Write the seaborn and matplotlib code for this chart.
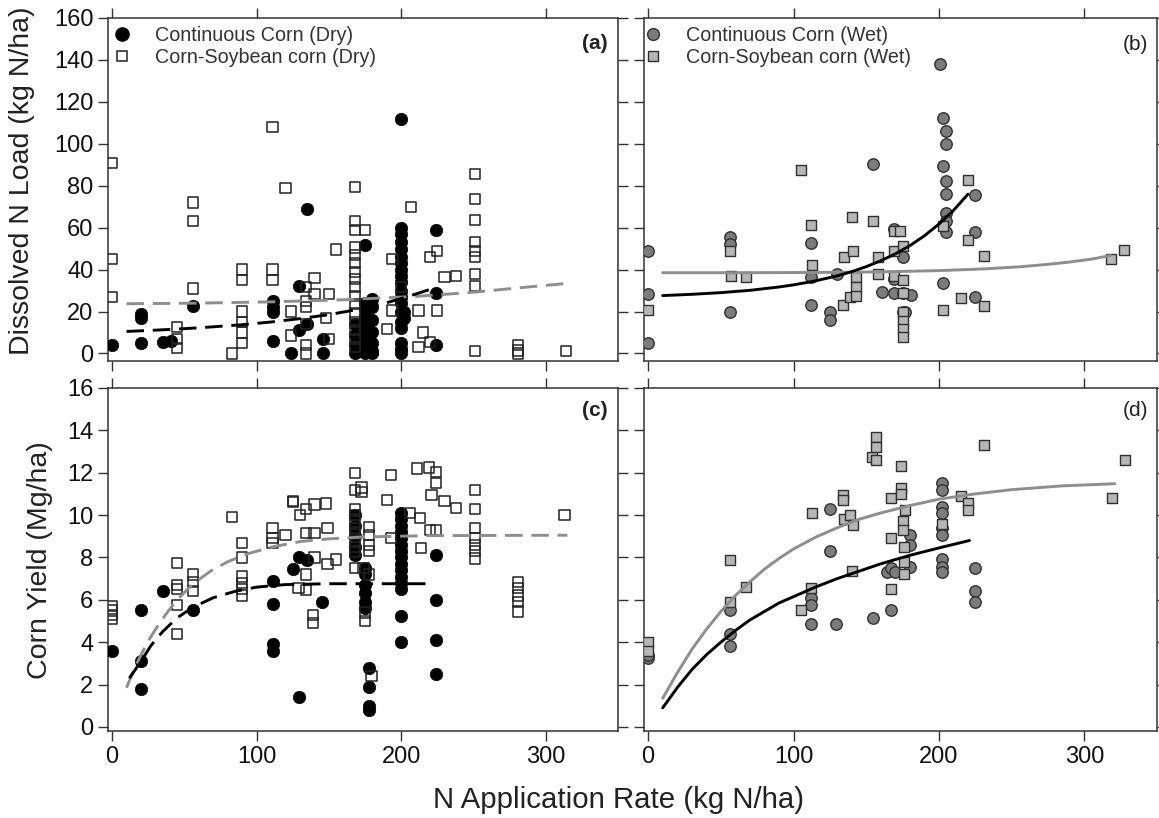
import matplotlib
matplotlib.use("Agg")
import matplotlib.pyplot as plt
import seaborn as sns
from matplotlib.lines import Line2D

# ---------------- data ----------------
# Panel (a): dissolved N load, dry years
a_cc_x = [0, 20, 20, 20, 35, 41, 56, 111, 111, 111, 111, 124, 129, 129, 135, 135, 146, 146,
          168, 168, 168, 168,
          175, 175, 175, 175, 175, 175, 175, 175, 175, 175,
          180, 180, 180, 180, 180, 180, 180,
          200, 200, 200, 200, 200, 200, 200, 200, 200, 200, 200, 200, 200, 200, 200, 200, 200, 200, 200,
          202, 202, 224, 224, 224]
a_cc_y = [4, 19, 17, 5, 5.5, 6, 22.5, 25, 22, 20, 6, 0, 32, 11, 69, 14, 7, 0,
          14, 9, 4, 0,
          51.5, 24, 21, 18, 15, 12, 9, 6, 3, 0,
          26, 22, 16, 10, 5, 1, 0,
          112, 60, 57, 53, 50, 46, 43, 40, 37, 34, 30, 27, 24, 20, 15, 12, 5, 2, 0,
          20, 17, 59, 29, 4]
a_cs_x = [0, 0, 0, 45, 45, 45, 56, 56, 56, 83, 90, 90, 90, 90, 90, 90, 111, 111, 111, 120, 124, 124,
          134, 134, 134, 134, 134, 134, 140, 140, 148, 150, 150, 155,
          168, 168, 168, 168, 168, 168, 168, 168, 168, 168, 168, 168, 168, 168, 168, 168,
          175, 190, 194, 194, 200, 207, 212, 212, 215, 220, 220, 225, 225, 230, 238,
          251, 251, 251, 251, 251, 251, 251, 251, 251, 281, 281, 281, 314]
a_cs_y = [91, 45, 27, 12.5, 7, 2.5, 72, 63, 31, 0, 40, 35, 20, 15, 10, 5, 108, 40, 35, 79, 20, 8.6,
          31.5, 25, 22, 14, 4, 0, 36, 28.5, 17, 28.5, 7, 49.6,
          79.5, 63, 59, 50.5, 47, 43, 39, 35.5, 31.5, 27.5, 23.5, 19, 15, 11, 7, 3,
          59, 11.5, 45, 20.5, 31.6, 69.7, 20.5, 3, 10, 5.4, 46, 49, 20.5, 36.4, 37,
          85.5, 73.5, 63.5, 53, 49, 46, 38, 32, 1, 4, 1.4, 0, 1]
a_fit_cc_x = [10, 30, 50, 70, 90, 110, 130, 150, 170, 190, 205, 222]
a_fit_cc_y = [10.5, 11.1, 11.8, 12.7, 13.7, 15.0, 16.6, 18.5, 21.0, 24.2, 27.2, 31.0]
a_fit_cs_x = [10, 60, 110, 160, 210, 250, 280, 315]
a_fit_cs_y = [23.7, 24.0, 24.6, 25.6, 27.2, 29.2, 31.2, 33.4]

# Panel (b): dissolved N load, wet years
b_cc_x = [0, 0, 0, 56, 56, 56, 112, 112, 112, 125, 125, 130, 155, 161, 169, 169, 169,
          175, 175, 175, 177, 181, 201, 203, 203, 203, 205, 205, 205, 205, 205, 205, 205,
          225, 225, 225]
b_cc_y = [48.7, 28.5, 4.8, 55.7, 52, 19.7, 52.5, 36.3, 22.9, 20, 16, 38, 90.3, 29.2, 59.5, 35.7, 29,
          46, 29, 19.7, 19.7, 28, 138, 112.5, 89.5, 33.5, 106, 100, 82.4, 76, 67, 63, 57.8,
          75.5, 57.8, 26.8]
b_cs_x = [0, 56, 57, 67, 105, 112, 113, 134, 135, 139, 140.5, 141, 143, 143, 143, 155, 158, 158,
          169, 169, 169, 173, 175, 175, 175, 175, 175, 175, 175, 202.5, 202.5,
          215, 220, 220, 231, 231, 318, 327]
b_cs_y = [20.5, 48.7, 37, 36.3, 87.5, 61.3, 42.4, 23.3, 46, 26.8, 65, 49, 36.3, 31.6, 27.6, 63.3, 46, 38,
          58.6, 49, 37, 58.6, 51.4, 35, 29, 19.7, 15.7, 11.7, 7.8, 61, 20.5,
          26.5, 82.7, 54, 46.7, 22.4, 45, 49.4]
b_fit_cc_x = [10, 30, 50, 70, 90, 100, 115, 130, 140, 150, 160, 170, 180, 190, 200, 210, 220]
b_fit_cc_y = [27.6, 28.2, 29.0, 30.1, 31.7, 32.7, 34.6, 37.0, 39.0, 41.4, 44.2, 47.5, 51.4, 56.1, 61.7, 68.2, 76.0]
b_fit_cs_x = [10, 60, 110, 160, 200, 230, 255, 275, 290, 305, 318]
b_fit_cs_y = [38.5, 38.5, 38.6, 38.9, 39.5, 40.3, 41.3, 42.5, 43.6, 45.0, 46.7]

# Panel (c): corn yield, dry years
c_cc_x = [0, 20, 20, 20, 35, 56, 111, 111, 111, 111, 125, 129, 129, 135, 145,
          168, 168, 168, 168, 168, 175, 175, 175, 175, 175, 175, 178, 178, 178, 178,
          200, 200, 200, 200, 200, 200, 200, 200, 200, 200, 200, 200, 200, 200, 200,
          224, 224, 224, 224]
c_cc_y = [3.6, 5.5, 3.1, 1.8, 6.4, 5.5, 6.9, 5.8, 3.9, 3.6, 7.45, 8.0, 1.4, 7.9, 5.9,
          10.0, 9.5, 9.0, 8.5, 8.1, 7.5, 7.2, 6.7, 6.3, 5.9, 5.6, 2.8, 1.9, 1.0, 0.8,
          10.1, 9.8, 9.5, 9.2, 8.9, 8.6, 8.3, 8.0, 7.7, 7.4, 7.1, 6.8, 6.5, 5.25, 4.0,
          8.1, 6.0, 4.1, 2.5]
c_cs_x = [0, 0, 0, 0, 45, 45, 45, 45, 45, 56, 56, 56, 83, 90, 90, 90, 90, 90, 90,
          111, 111, 111, 120, 125, 125, 130, 134, 134, 134, 134, 139, 139, 140, 140, 140, 129,
          148, 149, 149, 155,
          168, 168, 168, 168, 168, 168, 168, 168, 168, 168, 168, 172.5, 172.5,
          178, 178, 178, 178, 178, 174, 175, 175, 179.5,
          190, 193, 193, 206, 211, 213, 214, 219, 220, 221, 224, 224, 224, 230, 238,
          251, 251, 251, 251, 251, 251, 251, 281, 281, 281, 281, 281, 313]
c_cs_y = [5.7, 5.5, 5.3, 5.1, 7.75, 6.7, 6.5, 5.75, 4.4, 7.2, 6.85, 6.4, 9.9, 8.7, 8.0, 7.1, 6.8, 6.5, 6.2,
          9.4, 8.9, 8.7, 9.05, 10.6, 10.65, 10.0, 10.3, 9.15, 7.2, 6.45, 5.3, 4.9, 10.5, 9.15, 8.0, 6.55,
          10.55, 9.4, 7.7, 7.9,
          12.0, 11.2, 10.3, 10.0, 9.7, 9.4, 9.1, 8.8, 8.5, 8.25, 7.5, 11.3, 11.1,
          9.45, 9.05, 8.6, 8.3, 7.2, 7.5, 5.4, 5.0, 2.4,
          10.7, 11.9, 8.9, 10.1, 12.2, 9.85, 8.45, 12.25, 9.3, 10.95, 12.05, 11.5, 9.3, 10.65, 10.35,
          11.2, 10.3, 9.4, 8.9, 8.6, 8.3, 7.95, 6.85, 6.55, 6.2, 5.9, 5.45, 10.0]
c_fit_cc_x = [12, 16, 20, 27, 35, 45, 56, 70, 85, 100, 120, 150, 222]
c_fit_cc_y = [2.3, 2.7, 3.1, 3.85, 4.5, 5.15, 5.65, 6.1, 6.4, 6.6, 6.72, 6.76, 6.76]
c_fit_cs_x = [10, 15, 20, 25, 30, 37, 45, 56, 68, 80, 95, 111, 130, 150, 175, 220, 315]
c_fit_cs_y = [1.85, 2.7, 3.4, 4.05, 4.6, 5.3, 6.0, 6.75, 7.35, 7.8, 8.2, 8.5, 8.75, 8.88, 8.97, 9.03, 9.05]

# Panel (d): corn yield, wet years
d_cc_x = [0, 0, 56, 56, 56, 112, 112, 112, 125, 125, 129, 155, 164, 167, 167, 170,
          180, 180, 180, 202, 202, 202, 202, 202, 202, 202, 202, 202, 225, 225, 225]
d_cc_y = [3.25, 3.4, 5.5, 4.4, 3.8, 6.07, 5.75, 4.85, 10.3, 8.3, 4.85, 5.15, 7.3, 7.5, 5.5, 7.3,
          9.05, 8.6, 7.55, 11.5, 11.2, 10.4, 10.1, 9.4, 9.05, 7.95, 7.55, 7.3, 7.5, 6.4, 5.9]
d_cs_x = [0, 0, 56, 56, 67, 105, 112, 113, 134, 134, 135, 139, 141, 140, 154, 157, 157, 157,
          167, 167, 167, 174, 174, 174, 175, 175, 176, 176, 176, 177, 202, 215, 220, 220, 231, 319, 328]
d_cs_y = [4.0, 3.6, 7.9, 5.9, 6.6, 5.5, 6.55, 10.1, 10.95, 10.7, 9.8, 10.0, 9.55, 7.36, 12.75, 13.7, 13.2, 12.6,
          10.8, 8.9, 6.5, 12.3, 11.3, 11.0, 9.7, 9.3, 8.5, 7.8, 7.2, 10.25, 9.6, 10.9, 10.55, 10.25, 13.3, 10.8, 12.6]
d_fit_cc_x = [10, 20, 30, 40, 50, 60, 70, 80, 90, 100, 115, 130, 145, 160, 180, 200, 221]
d_fit_cc_y = [0.9, 1.85, 2.7, 3.4, 4.0, 4.55, 5.05, 5.45, 5.85, 6.15, 6.6, 7.0, 7.35, 7.7, 8.1, 8.45, 8.8]
d_fit_cs_x = [10, 20, 30, 40, 50, 60, 70, 80, 90, 100, 115, 130, 145, 160, 180, 200, 225, 250, 285, 321]
d_fit_cs_y = [1.35, 2.55, 3.65, 4.6, 5.45, 6.2, 6.85, 7.45, 7.95, 8.4, 8.95, 9.4, 9.8, 10.1, 10.45, 10.75,
              11.0, 11.2, 11.38, 11.48]

x_ticks = [0, 100, 200, 300]
load_ticks = [0, 20, 40, 60, 80, 100, 120, 140, 160]
yield_ticks = [0, 2, 4, 6, 8, 10, 12, 14, 16]
legend_dry = ["Continuous Corn (Dry)", "Corn-Soybean corn (Dry)"]
legend_wet = ["Continuous Corn (Wet)", "Corn-Soybean corn (Wet)"]
panel_labels = ["(a)", "(b)", "(c)", "(d)"]
x_label = "N Application Rate (kg N/ha)"
load_label = "Dissolved N Load (kg N/ha)"
yield_label = "Corn Yield (Mg/ha)"

# ---------------- style ----------------
sns.set_style("ticks")
plt.rcParams["font.family"] = ["Liberation Sans", "DejaVu Sans"]
plt.rcParams["axes.edgecolor"] = "#333333"
plt.rcParams["axes.linewidth"] = 1.1

GRAY_C = "#7c7c7c"
GRAY_S = "#b6b6b6"
GRAY_L = "#8e8e8e"
EDGE = "#303030"
DASH = (0, (6.0, 3.0))

fig = plt.figure(figsize=(11.59, 8.18), dpi=100)
ax_a = fig.add_axes([0.0932, 0.5587, 0.4400, 0.4193])
ax_b = fig.add_axes([0.5557, 0.5587, 0.4426, 0.4193])
ax_c = fig.add_axes([0.0932, 0.1064, 0.4400, 0.4193])
ax_d = fig.add_axes([0.5557, 0.1064, 0.4426, 0.4193])


def dry_points(ax, cc_x, cc_y, cs_x, cs_y):
    sns.scatterplot(x=cc_x, y=cc_y, ax=ax, marker="o", s=80, color="black",
                    edgecolor="black", linewidth=0.5, zorder=3)
    sns.scatterplot(x=cs_x, y=cs_y, ax=ax, marker="s", s=54, facecolors="none",
                    edgecolor="#222222", linewidth=1.1, zorder=3)


def wet_points(ax, cc_x, cc_y, cs_x, cs_y):
    sns.scatterplot(x=cc_x, y=cc_y, ax=ax, marker="o", s=68, color=GRAY_C,
                    edgecolor=EDGE, linewidth=1.0, zorder=3)
    sns.scatterplot(x=cs_x, y=cs_y, ax=ax, marker="s", s=52, color=GRAY_S,
                    edgecolor=EDGE, linewidth=1.0, zorder=3)


def fit_line(ax, x, y, color, ls):
    sns.lineplot(x=x, y=y, ax=ax, color=color, linewidth=2.1, linestyle=ls,
                 sort=False, estimator=None, errorbar=None, zorder=4)


dry_points(ax_a, a_cc_x, a_cc_y, a_cs_x, a_cs_y)
fit_line(ax_a, a_fit_cs_x, a_fit_cs_y, GRAY_L, DASH)
fit_line(ax_a, a_fit_cc_x, a_fit_cc_y, "black", DASH)

wet_points(ax_b, b_cc_x, b_cc_y, b_cs_x, b_cs_y)
fit_line(ax_b, b_fit_cs_x, b_fit_cs_y, GRAY_L, "-")
fit_line(ax_b, b_fit_cc_x, b_fit_cc_y, "black", "-")

dry_points(ax_c, c_cc_x, c_cc_y, c_cs_x, c_cs_y)
fit_line(ax_c, c_fit_cs_x, c_fit_cs_y, GRAY_L, DASH)
fit_line(ax_c, c_fit_cc_x, c_fit_cc_y, "black", DASH)

wet_points(ax_d, d_cc_x, d_cc_y, d_cs_x, d_cs_y)
fit_line(ax_d, d_fit_cs_x, d_fit_cs_y, GRAY_L, "-")
fit_line(ax_d, d_fit_cc_x, d_fit_cc_y, "black", "-")

for ax in (ax_a, ax_b, ax_c, ax_d):
    ax.set_xlim(-2.8, 350)
    ax.set_xticks(x_ticks)
    ax.set_xlabel("")
    ax.set_ylabel("")
    ax.tick_params(direction="out", length=7, width=1.0, color="#333333",
                   top=True, right=True, labelsize=17, labelcolor="#111111")
    for sp in ax.spines.values():
        sp.set_visible(True)
        sp.set_color("#333333")
        sp.set_linewidth(1.1)

for ax in (ax_a, ax_b):
    ax.set_ylim(-3.6, 160)
    ax.set_yticks(load_ticks)
    ax.tick_params(labelbottom=False)
for ax in (ax_c, ax_d):
    ax.set_ylim(-0.19, 16)
    ax.set_yticks(yield_ticks)
for ax in (ax_b, ax_d):
    ax.tick_params(labelleft=False)

# legends
h_dry = [Line2D([], [], linestyle="none", marker="o", markersize=9.5, color="black"),
         Line2D([], [], linestyle="none", marker="s", markersize=6.5, markerfacecolor="none",
                markeredgecolor="#222222", markeredgewidth=1.1)]
h_wet = [Line2D([], [], linestyle="none", marker="o", markersize=8.5, markerfacecolor=GRAY_C,
                markeredgecolor=EDGE, markeredgewidth=1.0),
         Line2D([], [], linestyle="none", marker="s", markersize=7.0, markerfacecolor=GRAY_S,
                markeredgecolor=EDGE, markeredgewidth=1.0)]
leg_kw = dict(loc="upper left", frameon=False, fontsize=14.2, handlelength=1.4,
              handletextpad=1.0, borderpad=0, borderaxespad=0, labelspacing=0.12,
              labelcolor="#333333")
ax_a.legend(h_dry, legend_dry, bbox_to_anchor=(0.0, 0.976), **leg_kw)
ax_b.legend(h_wet, legend_wet, bbox_to_anchor=(-0.010, 0.976), **leg_kw)

# panel labels
ax_a.text(0.980, 0.927, panel_labels[0], transform=ax_a.transAxes, ha="right", va="center",
          fontsize=15, fontweight="bold", color="#222222")
ax_b.text(0.982, 0.924, panel_labels[1], transform=ax_b.transAxes, ha="right", va="center",
          fontsize=15, color="#222222")
ax_c.text(0.980, 0.933, panel_labels[2], transform=ax_c.transAxes, ha="right", va="center",
          fontsize=15, fontweight="bold", color="#222222")
ax_d.text(0.982, 0.933, panel_labels[3], transform=ax_d.transAxes, ha="right", va="center",
          fontsize=15, color="#222222")

# axis titles
fig.text(22 / 1159, 1 - 181 / 818, load_label, rotation=90, ha="center", va="center",
         fontsize=20.5, color="#222222")
fig.text(40 / 1159, 1 - 560 / 818, yield_label, rotation=90, ha="center", va="center",
         fontsize=20.5, color="#222222")
fig.text(619 / 1159, 1 - 800 / 818, x_label, ha="center", va="center",
         fontsize=21.2, color="#222222")

fig.savefig("out.png", dpi=100)
